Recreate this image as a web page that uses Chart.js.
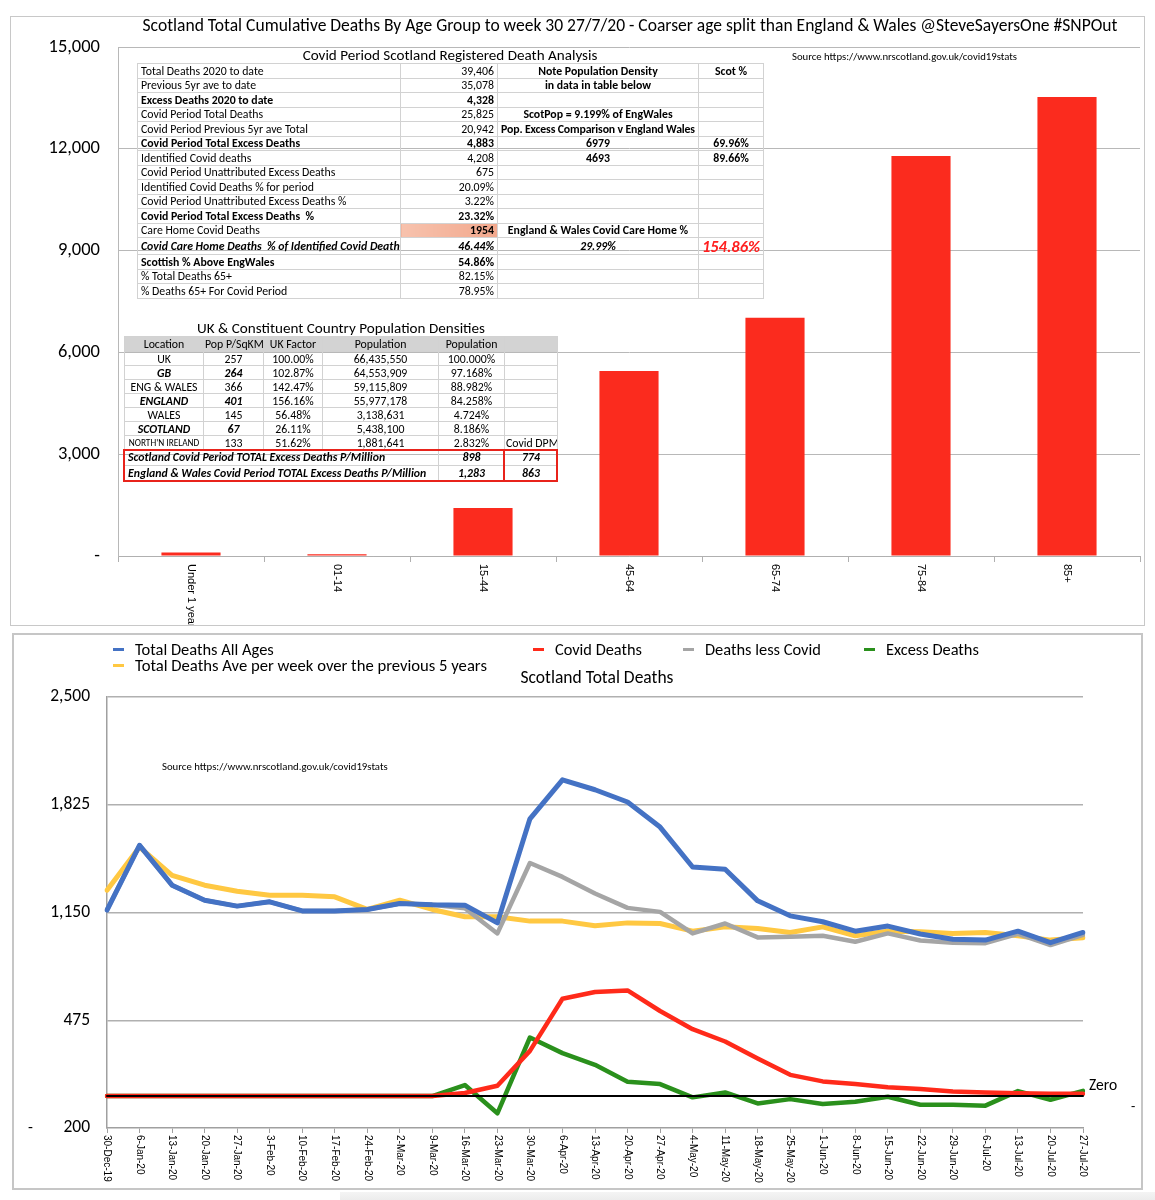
<!DOCTYPE html>
<html>
<head>
<meta charset="utf-8">
<title>Scotland deaths by age and week</title>
<script src="https://cdn.jsdelivr.net/npm/chart.js@4.4.1/dist/chart.umd.min.js"></script>
<style>
html,body{margin:0;padding:0;background:#fff;}
body{width:1155px;height:1200px;position:relative;overflow:hidden;font-family:Carlito,Lato,sans-serif;color:#000;}
.a{position:absolute;white-space:nowrap;}
.fit{display:inline-block;}
canvas{position:absolute;left:0;}
table{border-collapse:collapse;table-layout:fixed;position:absolute;font-size:11.8px;}
td{border:1px solid #d2d2d2;padding:0 3px;overflow:hidden;white-space:nowrap;line-height:12px;}
tr{height:14.5px;}
.r{text-align:right;}
.c{text-align:center;}
.b{font-weight:bold;}
.i{font-style:italic;}
#t2 td{text-align:center;padding:0 1px;}
#t2 tr{height:14px;}
#t2 tr.h{height:15px;background:#d3d3d3;}
#t2 tr.rb{height:15.5px;}
.lg{position:absolute;height:3px;width:11px;}
</style>
</head>
<body>
<div class="a" style="left:10px;top:16px;width:1135px;height:610px;border:1px solid #c8c8c8;box-sizing:border-box"></div>
<div class="a" style="left:12px;top:633px;width:1131px;height:557px;border:2px solid #c6c6c6;box-sizing:border-box"></div>
<div class="a" style="left:340px;top:1192px;width:815px;height:8px;background:linear-gradient(#f4f4f4,#ececec)"></div>

<canvas id="c1" width="1155" height="625" style="top:0"></canvas>
<canvas id="c2" width="1155" height="560" style="top:633px"></canvas>

<div class="a" style="left:0;top:14px;width:1260px;text-align:center;line-height:22px"><span class="fit" data-w="976" style="font-size:17px">Scotland Total Cumulative Deaths By Age Group to week 30 27/7/20 - Coarser age split than England &amp; Wales @SteveSayersOne #SNPOut</span></div>
<div class="a" style="left:792px;top:49px;line-height:12px"><span class="fit" data-w="225" style="font-size:10px">Source https://www.nrscotland.gov.uk/covid19stats</span></div>

<div class="a" style="left:250px;top:47px;width:400px;text-align:center;line-height:16px"><span class="fit" data-w="295" style="font-size:14.5px">Covid Period Scotland Registered Death Analysis</span></div>
<table id="t1" style="left:137px;top:63px;width:626px">
<colgroup><col style="width:263px"><col style="width:97px"><col style="width:201px"><col style="width:65px"></colgroup>
<tr><td>Total Deaths 2020 to date</td><td class="r">39,406</td><td class="c b">Note Population Density</td><td class="c b">Scot %</td></tr>
<tr><td>Previous 5yr ave to date</td><td class="r">35,078</td><td class="c b">in data in table below</td><td></td></tr>
<tr class="b"><td>Excess Deaths 2020 to date</td><td class="r">4,328</td><td></td><td></td></tr>
<tr><td>Covid Period Total Deaths</td><td class="r">25,825</td><td class="c b">ScotPop = 9.199% of EngWales</td><td></td></tr>
<tr><td>Covid Period Previous 5yr ave Total</td><td class="r">20,942</td><td class="c b" style="letter-spacing:-0.15px;padding:0">Pop. Excess Comparison v England Wales</td><td></td></tr>
<tr class="b"><td>Covid Period Total Excess Deaths</td><td class="r">4,883</td><td class="c">6979</td><td class="c">69.96%</td></tr>
<tr><td>Identified Covid deaths</td><td class="r">4,208</td><td class="c b">4693</td><td class="c b">89.66%</td></tr>
<tr><td>Covid Period Unattributed Excess Deaths</td><td class="r">675</td><td></td><td></td></tr>
<tr><td>Identified Covid Deaths % for period</td><td class="r">20.09%</td><td></td><td></td></tr>
<tr><td>Covid Period Unattributed Excess Deaths %</td><td class="r">3.22%</td><td></td><td></td></tr>
<tr class="b"><td>Covid Period Total Excess Deaths&nbsp; %</td><td class="r">23.32%</td><td></td><td></td></tr>
<tr><td>Care Home Covid Deaths</td><td class="r b" style="background:linear-gradient(90deg,#f7c2ad,#f2a88d)">1954</td><td class="c b">England &amp; Wales Covid Care Home %</td><td></td></tr>
<tr class="b i" style="height:17px"><td>Covid Care Home Deaths&nbsp; % of Identified Covid Deaths</td><td class="r">46.44%</td><td class="c">29.99%</td><td class="c" style="color:#ff1f1f;font-size:16.5px;overflow:visible;padding:0">154.86%</td></tr>
<tr class="b"><td>Scottish % Above EngWales</td><td class="r">54.86%</td><td></td><td></td></tr>
<tr><td>% Total Deaths 65+</td><td class="r">82.15%</td><td></td><td></td></tr>
<tr><td>% Deaths 65+ For Covid Period</td><td class="r">78.95%</td><td></td><td></td></tr>
</table>

<div class="a" style="left:141px;top:320px;width:400px;text-align:center;line-height:16px"><span class="fit" data-w="288" style="font-size:14.5px">UK &amp; Constituent Country Population Densities</span></div>
<table id="t2" style="left:124px;top:336px;width:433px">
<colgroup><col style="width:79px"><col style="width:60px"><col style="width:59px"><col style="width:116px"><col style="width:66px"><col style="width:53px"></colgroup>
<tr class="h"><td>Location</td><td>Pop P/SqKM</td><td>UK Factor</td><td>Population</td><td>Population</td><td></td></tr>
<tr><td>UK</td><td>257</td><td>100.00%</td><td>66,435,550</td><td>100.000%</td><td></td></tr>
<tr><td class="b i">GB</td><td class="b i">264</td><td>102.87%</td><td>64,553,909</td><td>97.168%</td><td></td></tr>
<tr><td>ENG &amp; WALES</td><td>366</td><td>142.47%</td><td>59,115,809</td><td>88.982%</td><td></td></tr>
<tr><td class="b i">ENGLAND</td><td class="b i">401</td><td>156.16%</td><td>55,977,178</td><td>84.258%</td><td></td></tr>
<tr><td>WALES</td><td>145</td><td>56.48%</td><td>3,138,631</td><td>4.724%</td><td></td></tr>
<tr><td class="b i">SCOTLAND</td><td class="b i">67</td><td>26.11%</td><td>5,438,100</td><td>8.186%</td><td></td></tr>
<tr><td style="font-size:9.3px">NORTH'N IRELAND</td><td>133</td><td>51.62%</td><td>1,881,641</td><td>2.832%</td><td>Covid DPM</td></tr>
<tr class="b i rb"><td colspan="4" style="text-align:left;padding-left:3px">Scotland Covid Period TOTAL Excess Deaths P/Million</td><td>898</td><td>774</td></tr>
<tr class="b i rb"><td colspan="4" style="text-align:left;padding-left:3px">England &amp; Wales Covid Period TOTAL Excess Deaths P/Million</td><td>1,283</td><td>863</td></tr>
</table>
<div class="a" style="left:123px;top:449px;width:435px;height:33px;border:2px solid #e8231b;box-sizing:border-box"></div>
<div class="a" style="left:503px;top:449px;width:2px;height:33px;background:#e8231b"></div>

<div id="legend2"></div>
<div class="a" style="left:447px;top:668px;width:300px;text-align:center;line-height:18px"><span class="fit" data-w="153" style="font-size:15.5px">Scotland Total Deaths</span></div>
<div class="a" style="left:162px;top:759px;line-height:12px"><span class="fit" data-w="226" style="font-size:10px">Source https://www.nrscotland.gov.uk/covid19stats</span></div>
<div class="a" style="left:1131px;top:1100px;font-size:14px;line-height:14px">-</div>

<script>
// ---------- Top chart data ----------
const ageGroups = ['Under 1 year', '01-14', '15-44', '45-64', '65-74', '75-84', '85+'];
const cumulativeDeaths = [100, 55, 1415, 5455, 7020, 11790, 13530];

// ---------- Bottom chart data ----------
const weeks = ['30-Dec-19','6-Jan-20','13-Jan-20','20-Jan-20','27-Jan-20','3-Feb-20','10-Feb-20','17-Feb-20','24-Feb-20',
  '2-Mar-20','9-Mar-20','16-Mar-20','23-Mar-20','30-Mar-20','6-Apr-20','13-Apr-20','20-Apr-20','27-Apr-20',
  '4-May-20','11-May-20','18-May-20','25-May-20','1-Jun-20','8-Jun-20','15-Jun-20','22-Jun-20','29-Jun-20',
  '6-Jul-20','13-Jul-20','20-Jul-20','27-Jul-20'];
const totalDeaths     = [1165,1571,1321,1227,1190,1217,1160,1160,1169,1206,1198,1196,1085,1737,1981,1919,1842,1685,1435,1421,1223,1129,1092,1033,1065,1015,983,977,1033,961,1025];
const avgPrev5Years   = [1290,1560,1383,1321,1283,1258,1258,1248,1170,1227,1169,1123,1123,1096,1096,1067,1085,1081,1033,1060,1050,1025,1060,1004,1033,1029,1019,1025,1004,977,992];
const covidDeaths     = [0,0,0,0,0,0,0,0,0,0,0,19,65,283,610,652,662,533,419,342,235,133,92,75,56,44,29,23,17,15,15];
const deathsLessCovid = [1165,1571,1321,1227,1190,1217,1160,1160,1169,1206,1198,1177,1019,1460,1373,1269,1179,1154,1019,1081,994,998,1004,967,1019,975,960,958,1016,946,1010];
const excessDeaths    = [0,0,0,0,0,0,0,0,0,0,0,69,-108,367,269,196,90,75,-8,23,-46,-19,-50,-35,-4,-54,-54,-60,31,-23,33];
const zeroLine        = [0,0,0,0,0,0,0,0,0,0,0,0,0,0,0,0,0,0,0,0,0,0,0,0,0,0,0,0,0,0,0];

const FONT = "Carlito, Lato, sans-serif";
const LABEL_FONT = "'Liberation Sans', Arial, sans-serif";
Chart.defaults.font.family = FONT;
Chart.defaults.color = '#000';

// fit single-line texts to the widths they take in the original
document.querySelectorAll('.fit').forEach(el => {
  const target = parseFloat(el.dataset.w);
  const fs = parseFloat(el.style.fontSize);
  const w = el.getBoundingClientRect().width;
  if (w > 0) el.style.fontSize = (fs * target / w).toFixed(2) + 'px';
});

function rotatedLabels(fontSize, gap) {
  return {
    id: 'rotLabels' + fontSize,
    afterDraw(chart) {
      const ctx = chart.ctx, xs = chart.scales.x, ys = chart.scales.y;
      ctx.save();
      ctx.font = fontSize + 'px ' + LABEL_FONT;
      ctx.fillStyle = '#000';
      ctx.textAlign = 'left';
      ctx.textBaseline = 'middle';
      chart.data.labels.forEach((lab, i) => {
        const px = xs.getPixelForValue(i);
        ctx.save();
        ctx.translate(px, ys.bottom + gap);
        ctx.rotate(Math.PI / 2);
        ctx.fillText(lab, 0, 0);
        ctx.restore();
      });
      ctx.restore();
    }
  };
}

new Chart(document.getElementById('c1'), {
  type: 'bar',
  data: {
    labels: ageGroups,
    datasets: [{
      label: 'Cumulative deaths',
      data: cumulativeDeaths,
      backgroundColor: '#fb2b1e',
      borderWidth: 0,
      categoryPercentage: 1,
      barPercentage: 0.405
    }]
  },
  options: {
    responsive: false,
    animation: false,
    layout: { padding: { left: 0, right: 15, top: 47, bottom: 0 } },
    plugins: { legend: { display: false }, tooltip: { enabled: false } },
    scales: {
      x: {
        grid: { display: true, drawOnChartArea: false, drawTicks: true, tickLength: 6, color: '#b0b0b0', offset: true },
        border: { display: true, color: '#b0b0b0', width: 1 },
        ticks: { display: false },
        afterFit(s) { s.height = 69; }
      },
      y: {
        min: 0, max: 15000,
        ticks: { stepSize: 3000, padding: 18, font: { size: 18.5 }, color: '#000',
          callback: v => v === 0 ? '-' : v.toLocaleString('en-US') },
        grid: { color: '#b8b8b8', drawTicks: false, lineWidth: 1 },
        border: { display: true, color: '#b8b8b8' },
        afterFit(s) { s.width = 118; }
      }
    }
  },
  plugins: [rotatedLabels(11, 8)]
});

const extraText = {
  id: 'extraText',
  afterDraw(chart) {
    const ctx = chart.ctx, ys = chart.scales.y;
    ctx.save();
    ctx.fillStyle = '#000';
    ctx.textBaseline = 'middle';
    // "Zero" data label at the end of the zero line
    const idx = chart.data.datasets.findIndex(d => d.label === 'Zero');
    const pts = chart.getDatasetMeta(idx).data;
    const last = pts[pts.length - 1];
    ctx.font = '15.5px ' + FONT;
    ctx.textAlign = 'left';
    ctx.fillText('Zero', last.x + 6, last.y - 10);
    // accounting-style minus sign of the lowest tick, flush left
    ctx.font = '16px ' + FONT;
    ctx.fillText('-', 28, ys.getPixelForValue(ys.min));
    ctx.restore();
  }
};

const chart2 = new Chart(document.getElementById('c2'), {
  type: 'line',
  data: {
    labels: weeks,
    datasets: [
      { label: 'Zero', data: zeroLine, borderColor: '#000000', borderWidth: 2, order: 0 },
      { label: 'Total Deaths All Ages', data: totalDeaths, borderColor: '#4472c4', borderWidth: 5, order: 1 },
      { label: 'Covid Deaths', data: covidDeaths, borderColor: '#ff2a1a', borderWidth: 4.5, order: 2 },
      { label: 'Deaths less Covid', data: deathsLessCovid, borderColor: '#a5a5a5', borderWidth: 4.5, order: 3 },
      { label: 'Total Deaths Ave per week over the previous 5 years', data: avgPrev5Years, borderColor: '#ffc842', borderWidth: 5, order: 4 },
      { label: 'Excess Deaths', data: excessDeaths, borderColor: '#2a901c', borderWidth: 4.5, order: 5 }
    ]
  },
  options: {
    responsive: false,
    animation: false,
    elements: { point: { radius: 0 }, line: { tension: 0, borderJoinStyle: 'round', borderCapStyle: 'round' } },
    layout: { padding: { left: 0, right: 72, top: 64, bottom: 0 } },
    plugins: { legend: { display: false }, tooltip: { enabled: false } },
    scales: {
      x: {
        offset: false,
        grid: { display: true, drawOnChartArea: false, drawTicks: true, tickLength: 5, color: '#a0a0a0' },
        border: { display: true, color: '#a0a0a0', width: 1.5 },
        ticks: { display: false },
        afterFit(s) { s.height = 65; }
      },
      y: {
        min: -200, max: 2500,
        ticks: { stepSize: 675, padding: 17, font: { size: 17.5 }, color: '#000',
          callback: v => v < 0 ? String(Math.abs(v)) : v.toLocaleString('en-US') },
        grid: { color: c => (c.tick && c.tick.value === -200) ? 'rgba(0,0,0,0)' : '#b0b0b0', drawTicks: false, lineWidth: 1.5 },
        border: { display: true, color: '#a0a0a0', width: 1.5 },
        afterFit(s) { s.width = 107; }
      }
    }
  },
  plugins: [rotatedLabels(10, 7), extraText]
});

// HTML legend for the bottom chart (positions only; names/colours from datasets)
const legendPos = {
  'Total Deaths All Ages': [113, 649, 139],
  'Covid Deaths': [533, 649, 87],
  'Deaths less Covid': [683, 649, 116],
  'Excess Deaths': [864, 649, 93],
  'Total Deaths Ave per week over the previous 5 years': [113, 665, 352]
};
const lg = document.getElementById('legend2');
chart2.data.datasets.forEach(ds => {
  const p = legendPos[ds.label];
  if (!p) return;
  const m = document.createElement('div');
  m.className = 'lg';
  m.style.left = p[0] + 'px';
  m.style.top = (p[1] - 1) + 'px';
  m.style.background = ds.borderColor;
  lg.appendChild(m);
  const t = document.createElement('div');
  t.className = 'a';
  t.style.left = (p[0] + 22) + 'px';
  t.style.top = (p[1] - 9) + 'px';
  t.style.lineHeight = '18px';
  const s = document.createElement('span');
  s.className = 'fit';
  s.style.fontSize = '15.5px';
  s.textContent = ds.label;
  t.appendChild(s);
  lg.appendChild(t);
  const w = s.getBoundingClientRect().width;
  if (w > 0) s.style.fontSize = (15.5 * p[2] / w).toFixed(2) + 'px';
});
</script>
</body>
</html>
